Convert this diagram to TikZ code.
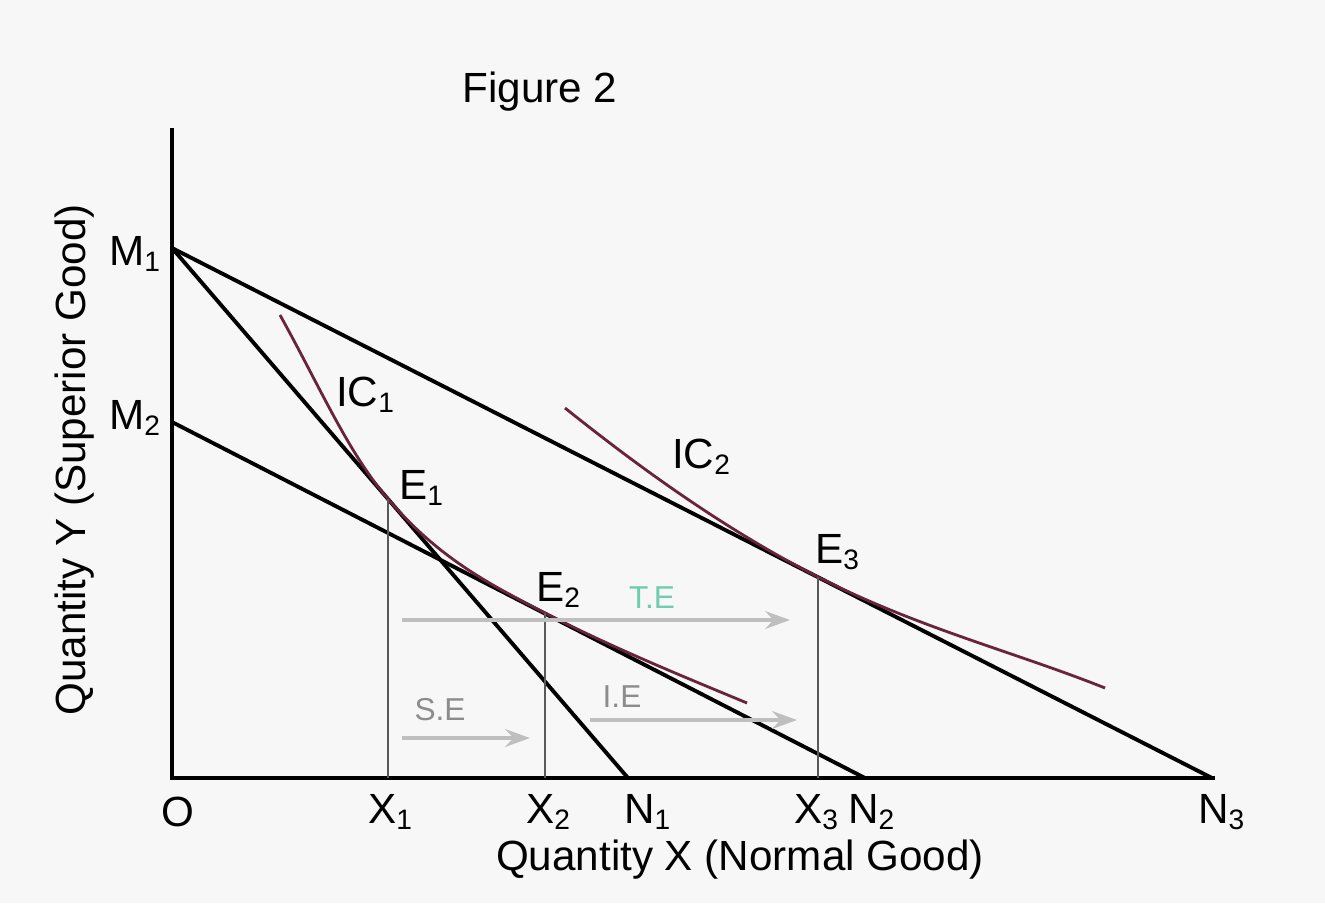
\documentclass[tikz,border=0pt]{standalone}
\usepackage{fontspec}
\setmainfont{Liberation Sans}
\usetikzlibrary{arrows.meta}
\definecolor{bgpaper}{RGB}{247,247,247}
\definecolor{icline}{RGB}{105,35,60}
\definecolor{mint}{RGB}{110,205,175}
\tikzset{
  budget/.style={line width=1.1pt,black},
  indiff/.style={line width=0.8pt,icline},
  drop/.style={line width=0.7pt,black!65},
  effect/.style={line width=1.4pt,black!25,-{Stealth[length=7pt,width=5pt]}},
  lbl/.style={font=\fontsize{12}{14}\selectfont,inner sep=1pt},
  small/.style={font=\fontsize{9}{11}\selectfont,inner sep=1pt},
}
\newcommand{\sub}[1]{\textsubscript{#1}}
\begin{document}
\begin{tikzpicture}[x=0.01cm,y=-0.01cm]
  \useasboundingbox[fill=bgpaper](0,0) rectangle(1325,903);
  % points of the diagram
  \coordinate(O) at(172,778);
  \coordinate(Ytop) at(172,128);
  \coordinate(Xend) at(1215,778);
  \coordinate(M1) at(172,248);
  \coordinate(M2) at(172,422);
  \coordinate(N1) at(628,778);
  \coordinate(N2) at(865,778);
  \coordinate(N3) at(1212,778);
  \coordinate(E1) at(388,499);
  \coordinate(E2) at(545,613);
  \coordinate(E3) at(818,577);
  \coordinate(X1) at(388,778);
  \coordinate(X2) at(545,778);
  \coordinate(X3) at(818,778);
  % axes
  \draw[budget](Ytop)--(O)--(Xend);
  % budget lines
  \draw[budget](M1)--(N1);
  \draw[budget](M1)--(N3);
  \draw[budget](M2)--(N2);
  % indifference curves
  \draw[indiff](280,315) .. controls(320,387) and (348,452.5) .. (E1)
    .. controls(438,557) and (485,582) .. (E2)
    .. controls(615,649) and (687,678) .. (747,703);
  \draw[indiff](565,408) .. controls(645,472) and (728,531) .. (E3)
    .. controls(918,628) and (1015,652) .. (1105,688);
  % drop lines
  \draw[drop](X1)--(E1);
  \draw[drop](X2)--(E2);
  \draw[drop](X3)--(E3);
  % effects
  \coordinate(TEa) at(402,620);
  \coordinate(TEb) at(790,620);
  \coordinate(SEa) at(402,738);
  \coordinate(SEb) at(530,738);
  \coordinate(IEa) at(590,720);
  \coordinate(IEb) at(797,720);
  \draw[effect](TEa)--(TEb);
  \draw[effect](SEa)--(SEb);
  \draw[effect](IEa)--(IEb);
  \node[small,text=mint](lTE) at(652,598){T.E};
  \node[small,text=black!45](lSE) at(440,710){S.E};
  \node[small,text=black!45](lIE) at(622,697){I.E};
  % labels
  \node[lbl](title) at(540,92){Figure 2};
  \node[lbl,anchor=east](lM1) at(166,254){M\sub{1}};
  \node[lbl,anchor=east](lM2) at(166,418){M\sub{2}};
  \node[lbl](lO) at(178,812){O};
  \node[lbl](lX1) at(391,812){X\sub{1}};
  \node[lbl](lX2) at(549,812){X\sub{2}};
  \node[lbl](lN1) at(648,812){N\sub{1}};
  \node[lbl](lX3) at(817,812){X\sub{3}};
  \node[lbl](lN2) at(872,812){N\sub{2}};
  \node[lbl](lN3) at(1222,812){N\sub{3}};
  \node[lbl](lE1) at(422,488){E\sub{1}};
  \node[lbl](lE2) at(559,590){E\sub{2}};
  \node[lbl](lE3) at(838,552){E\sub{3}};
  \node[lbl](lIC1) at(366,395){IC\sub{1}};
  \node[lbl](lIC2) at(702,457){IC\sub{2}};
  \node[lbl](xlab) at(740,860){Quantity X (Normal Good)};
  \node[lbl,rotate=90](ylab) at(75,460){Quantity Y (Superior Good)};
\end{tikzpicture}
\end{document}
